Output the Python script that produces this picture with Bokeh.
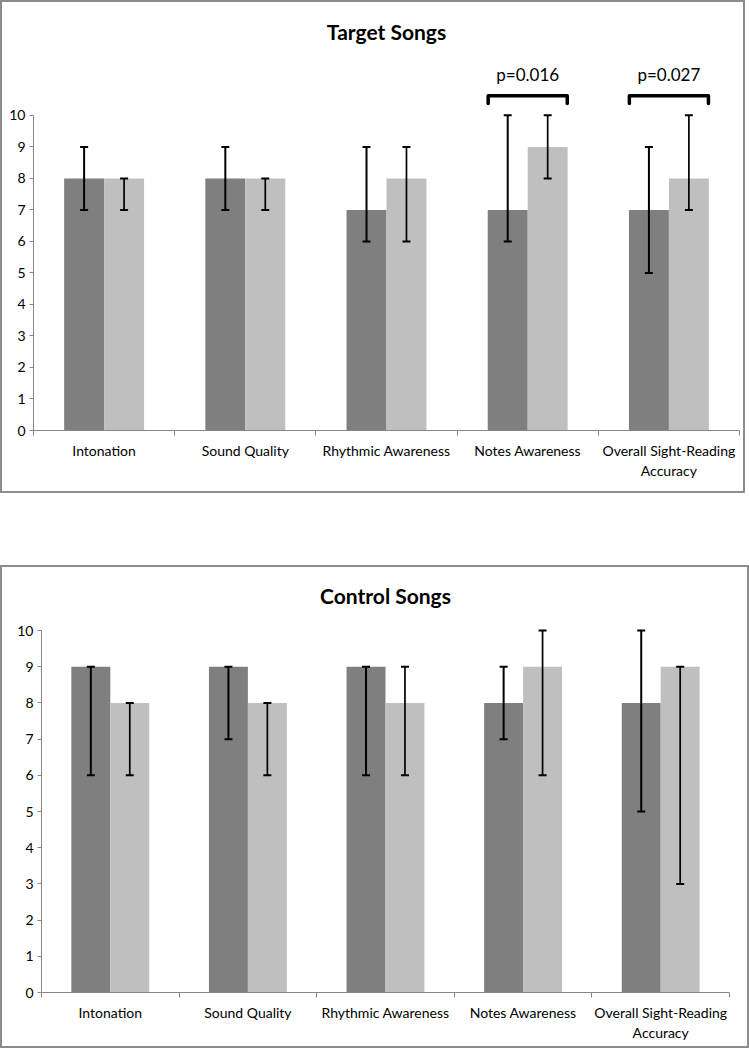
import numpy as np
from bokeh.plotting import figure
from bokeh.models import (Range1d, LinearAxis, FixedTicker, Whisker, TeeHead,
                          ColumnDataSource, Spacer)
from bokeh.layouts import column
from bokeh.core.properties import value
from bokeh.embed import file_html
from bokeh.resources import INLINE

# ---------------- data ----------------
categories = ["Intonation", "Sound Quality", "Rhythmic Awareness",
              "Notes Awareness", "Overall Sight-Reading\nAccuracy"]
y_ticks = [0, 1, 2, 3, 4, 5, 6, 7, 8, 9, 10]

# Target songs
target_dark = [8, 8, 7, 7, 7]
target_dark_lo = [7, 7, 6, 6, 5]
target_dark_hi = [9, 9, 9, 10, 9]
target_light = [8, 8, 8, 9, 8]
target_light_lo = [7, 7, 6, 8, 7]
target_light_hi = [8, 8, 9, 10, 10]

# significance annotations (target songs)
sig_index = [3, 4]
sig_labels = ["p=0.016", "p=0.027"]

# Control songs
control_dark = [9, 9, 9, 8, 8]
control_dark_lo = [6, 7, 6, 7, 5]
control_dark_hi = [9, 9, 9, 9, 10]
control_light = [8, 8, 8, 9, 9]
control_light_lo = [6, 6, 6, 6, 3]
control_light_hi = [8, 8, 9, 10, 9]

DARK = "#7f7f7f"
LIGHT = "#bfbfbf"
AXIS = "#868686"
BORDER = "#8c8c8c"
FONT = "Lato"
BAR_W = 0.283
OFF = 0.1415
WIDTH = 745


def make_chart(title, y_end, dark, dlo, dhi, light, llo, lhi, height,
               b_left, b_right, b_top, b_bottom, t_standoff, label_standoff):
    p = figure(width=WIDTH, height=height, output_backend="svg",
               toolbar_location=None, x_axis_type=None, y_axis_type=None,
               x_range=Range1d(-0.5, len(categories) - 0.5),
               y_range=Range1d(0, y_end),
               min_border_left=b_left, min_border_right=b_right,
               min_border_top=b_top, min_border_bottom=b_bottom)
    p.outline_line_color = None
    p.background_fill_color = "white"
    p.border_fill_color = "white"
    p.grid.visible = False
    p.title.text = title
    p.title.align = "center"
    p.title.text_font = FONT
    p.title.text_font_size = "21px"
    p.title.text_font_style = "bold"
    p.title.text_color = "black"
    p.title.standoff = t_standoff

    idx = np.arange(len(categories))
    xd = idx - OFF
    xl = idx + OFF
    p.vbar(x=xd, top=dark, width=BAR_W, fill_color=DARK, line_color=None)
    p.vbar(x=xl, top=light, width=BAR_W, fill_color=LIGHT, line_color=None)

    for xs, lo, hi, lw in ((xd, dlo, dhi, 2), (xl, llo, lhi, 1.7)):
        src = ColumnDataSource(dict(base=xs, lower=lo, upper=hi))
        w = Whisker(source=src, base="base", lower="lower", upper="upper",
                    dimension="height", line_width=lw, line_color="black",
                    level="overlay",
                    upper_head=TeeHead(size=8, line_width=2, line_color="black"),
                    lower_head=TeeHead(size=8, line_width=2, line_color="black"))
        p.add_layout(w)

    # x axis: labels at category centres, ticks at category boundaries
    xax = LinearAxis(
        ticker=FixedTicker(ticks=list(idx),
                           minor_ticks=list(np.arange(len(categories) + 1) - 0.5)),
        major_label_overrides={int(i): c for i, c in zip(idx, categories)},
        axis_line_color=AXIS, axis_line_width=1,
        major_tick_out=0, major_tick_in=0,
        minor_tick_out=5, minor_tick_in=0, minor_tick_line_color=AXIS,
        major_label_standoff=label_standoff,
        major_label_text_font=FONT, major_label_text_font_size="14px",
        major_label_text_color="black")
    p.add_layout(xax, "below")

    yax = LinearAxis(
        ticker=FixedTicker(ticks=y_ticks),
        bounds=(0, 10),
        axis_line_color=AXIS, axis_line_width=1,
        major_tick_out=4, major_tick_in=0, major_tick_line_color=AXIS,
        minor_tick_out=0, minor_tick_in=0,
        major_label_standoff=4, axis_label_standoff=0,
        major_label_text_font=FONT, major_label_text_font_size="14px",
        major_label_text_color="black")
    p.add_layout(yax, "left")
    return p


p1 = make_chart("Target Songs", 11.9, target_dark, target_dark_lo, target_dark_hi,
                target_light, target_light_lo, target_light_hi,
                height=493, b_left=31, b_right=8, b_top=53, b_bottom=65,
                t_standoff=24, label_standoff=6)
p1.styles = {"border": "2px solid " + BORDER}

# significance brackets
for i, lab in zip(sig_index, sig_labels):
    p1.line(x=[i - 0.28, i - 0.28, i + 0.28, i + 0.28],
            y=[10.38, 10.62, 10.62, 10.38],
            line_color="black", line_width=3.5, line_join="round", line_cap="round")
    p1.text(x=[i], y=[11.3], text=[lab], text_align="center",
            text_baseline="middle", text_font=value(FONT),
            text_font_size="17px", text_color="black")

p2 = make_chart("Control Songs", 10.5, control_dark, control_dark_lo, control_dark_hi,
                control_light, control_light_lo, control_light_hi,
                height=479, b_left=39, b_right=18, b_top=45, b_bottom=54,
                t_standoff=10, label_standoff=6)
box2 = column(p2, styles={"border": "2px solid " + BORDER})

layout = column(p1, Spacer(height=72), box2, spacing=0)

open("out.html", "w").write(file_html(layout, INLINE))
